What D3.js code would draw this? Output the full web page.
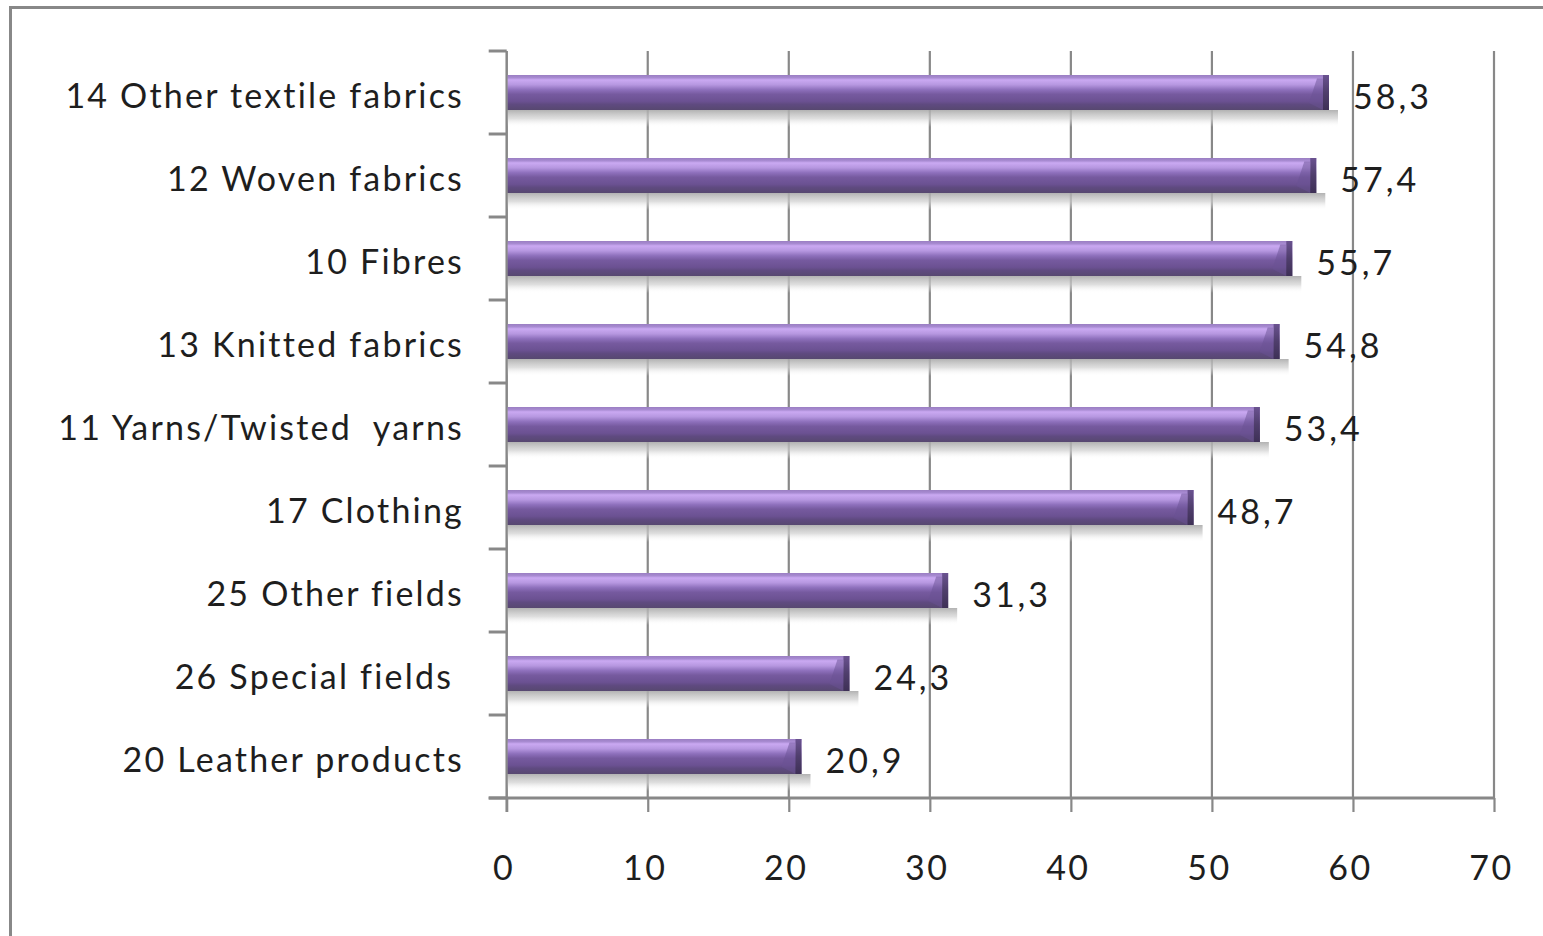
<!DOCTYPE html>
<html>
<head>
<meta charset="utf-8">
<script src="https://cdn.jsdelivr.net/npm/d3@7/dist/d3.min.js"></script>
<style>
  html, body { margin: 0; padding: 0; background: #fff; }
  svg { display: block; }
  text { font-family: Lato, "Open Sans", sans-serif; fill: #1e1e1e; white-space: pre; font-variant-ligatures: none; }
</style>
</head>
<body>
<svg id="chart" width="1543" height="936"></svg>
<script>
const categories = [
  "14 Other textile fabrics",
  "12 Woven fabrics",
  "10 Fibres",
  "13 Knitted fabrics",
  "11 Yarns/Twisted  yarns",
  "17 Clothing",
  "25 Other fields",
  "26 Special fields ",
  "20 Leather products"
];
const values = [58.3, 57.4, 55.7, 54.8, 53.4, 48.7, 31.3, 24.3, 20.9];
const valueLabels = ["58,3", "57,4", "55,7", "54,8", "53,4", "48,7", "31,3", "24,3", "20,9"];
const xTicks = [0, 10, 20, 30, 40, 50, 60, 70];

const svg = d3.select("#chart");
const W = 1543, H = 936;
const plot = { left: 506.7, right: 1494, top: 51, bottom: 798 };

// outer frame
svg.append("rect")
  .attr("x", 10.5).attr("y", 7.5)
  .attr("width", W + 20).attr("height", H + 20)
  .attr("fill", "none").attr("stroke", "#888").attr("stroke-width", 3);

const x = d3.scaleLinear().domain([0, 70]).range([plot.left, plot.right]);
const y = d3.scaleBand().domain(categories).range([plot.top, plot.bottom]).padding(0);

const defs = svg.append("defs");
const g1 = defs.append("linearGradient").attr("id", "barGrad")
  .attr("x1", 0).attr("y1", 0).attr("x2", 0).attr("y2", 1);
[
  [0, "#9a7ec2"], [0.08, "#a88bd2"], [0.14, "#caa9f2"], [0.28, "#b697e0"],
  [0.42, "#8e70bc"], [0.55, "#765a9f"], [0.75, "#6b5192"], [0.84, "#5f4a80"],
  [1, "#574870"]
].forEach(([o, c]) => g1.append("stop").attr("offset", o).attr("stop-color", c));

const g2 = defs.append("linearGradient").attr("id", "shadowGrad")
  .attr("x1", 0).attr("y1", 0).attr("x2", 0).attr("y2", 1);
[[0, "#aaaaaa", 0.9], [0.5, "#d0d0d0", 0.7], [1, "#ffffff", 0]]
  .forEach(([o, c, a]) => g2.append("stop").attr("offset", o).attr("stop-color", c).attr("stop-opacity", a));

const g3 = defs.append("linearGradient").attr("id", "capGrad")
  .attr("x1", 0).attr("y1", 0).attr("x2", 0).attr("y2", 1);
[[0, "#6a5290"], [0.5, "#4f3e6c"], [1, "#3e3056"]]
  .forEach(([o, c]) => g3.append("stop").attr("offset", o).attr("stop-color", c));

// vertical gridlines
svg.append("g").selectAll("line").data(xTicks.filter(d => d > 0)).join("line")
  .attr("x1", d => x(d)).attr("x2", d => x(d))
  .attr("y1", plot.top).attr("y2", plot.bottom)
  .attr("stroke", "#888").attr("stroke-width", 2.2);

// x axis
const xAxis = d3.axisBottom(x).tickValues(xTicks).tickSize(14).tickPadding(0).tickFormat(d => d);
const gx = svg.append("g").attr("transform", `translate(0,${plot.bottom})`).call(xAxis);
gx.select(".domain").remove();
gx.selectAll(".tick line").attr("stroke", "#888").attr("stroke-width", 2.2);
gx.selectAll(".tick text").attr("y", 82).attr("dy", 0).attr("dx", -3)
  .attr("font-size", 34).attr("letter-spacing", 2.5).attr("fill", "#1e1e1e")
  .style("font-family", "Lato, sans-serif");
svg.append("line").attr("x1", plot.left - 18).attr("x2", plot.right + 1)
  .attr("y1", plot.bottom).attr("y2", plot.bottom).attr("stroke", "#888").attr("stroke-width", 3);

// y axis
svg.append("line").attr("x1", plot.left).attr("x2", plot.left)
  .attr("y1", plot.top).attr("y2", plot.bottom + 14).attr("stroke", "#888").attr("stroke-width", 2.5);
const bounds = categories.map(c => y(c)).concat([plot.bottom]);
svg.append("g").selectAll("line").data(bounds).join("line")
  .attr("x1", plot.left - 18).attr("x2", plot.left)
  .attr("y1", d => d).attr("y2", d => d)
  .attr("stroke", "#888").attr("stroke-width", 3);

// category labels
svg.append("g").selectAll("text").data(categories).join("text")
  .attr("x", 464).attr("y", d => y(d) + y.bandwidth() / 2 + 15.5)
  .attr("text-anchor", "end").attr("font-size", 34).attr("letter-spacing", 2.2)
  .text(d => d);

const barH = 35;
const rows = categories.map((c, i) => ({ c, v: values[i], lbl: valueLabels[i] }));
const bars = svg.append("g").selectAll("g").data(rows).join("g")
  .attr("transform", d => `translate(0,${y(d.c) + y.bandwidth() / 2 - barH / 2})`);

// shadow
bars.append("rect")
  .attr("x", x(0) + 1).attr("y", barH)
  .attr("width", d => x(d.v) - x(0) + 8).attr("height", 17)
  .attr("fill", "url(#shadowGrad)");
// bar body
bars.append("rect")
  .attr("x", x(0) + 1).attr("y", 0)
  .attr("width", d => x(d.v) - x(0) - 1).attr("height", barH)
  .attr("fill", "url(#barGrad)");
// right end cap
bars.append("path")
  .attr("d", d => {
    const xe = x(d.v);
    return `M${xe - 12},${barH * 0.1} L${xe - 6},${barH * 0.1} L${xe - 6},${barH} L${xe - 20},${barH * 0.8} Z`;
  })
  .attr("fill", "#6a5294").attr("opacity", 0.5);
bars.append("rect")
  .attr("x", d => x(d.v) - 6).attr("y", 0)
  .attr("width", 6).attr("height", barH)
  .attr("fill", "url(#capGrad)");

// value labels
bars.append("text")
  .attr("x", d => x(d.v) + 24).attr("y", barH / 2 + 16)
  .attr("font-size", 34).attr("letter-spacing", 3)
  .text(d => d.lbl);
</script>
</body>
</html>
